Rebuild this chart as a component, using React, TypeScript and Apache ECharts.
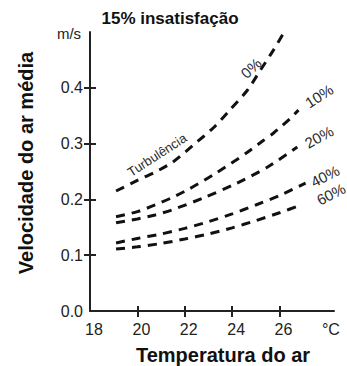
import React, { useEffect, useRef } from "react";
import * as echarts from "echarts";

const curveNames = ["0%", "10%", "20%", "40%", "60%"];
const temp0 = [19.1, 20.0, 20.75, 21.5, 22.35, 23.2, 23.9, 24.65, 25.2, 25.75, 26.25];
const vel0 = [0.215, 0.234, 0.249, 0.267, 0.297, 0.328, 0.36, 0.396, 0.432, 0.468, 0.504];
const temp10 = [19.1, 20.0, 20.75, 21.45, 22.2, 23.35, 24.6, 25.3, 25.75, 26.45, 26.8];
const vel10 = [0.169, 0.178, 0.19, 0.203, 0.219, 0.248, 0.283, 0.305, 0.319, 0.345, 0.36];
const temp20 = [19.1, 20.0, 20.75, 21.45, 22.75, 24.2, 25.5, 26.75];
const vel20 = [0.158, 0.165, 0.172, 0.181, 0.202, 0.229, 0.258, 0.294];
const temp40 = [19.1, 20, 21, 22, 23, 24, 25, 26, 27.1];
const vel40 = [0.122, 0.13, 0.138, 0.148, 0.16, 0.174, 0.19, 0.207, 0.229];
const temp60 = [19.1, 20, 21, 22, 23, 24, 25, 26, 26.9];
const vel60 = [0.111, 0.115, 0.121, 0.129, 0.138, 0.149, 0.162, 0.176, 0.19];

const xTickValues = [20, 22, 24, 26];
const xLabelValues = [18, 20, 22, 24, 26, 28];
const yTickValues = [0.1, 0.2, 0.3, 0.4];
const yLabelValues = [0, 0.1, 0.2, 0.3, 0.4];

const FONT = "'Liberation Sans', Arial, sans-serif";

function pairs(t: number[], v: number[]) {
  return t.map((x, i) => [x, v[i]]);
}

export default function App() {
  const ref = useRef<HTMLDivElement>(null);
  useEffect(() => {
    if (!ref.current) return;
    const chart = echarts.init(ref.current, undefined, { renderer: "svg" });
    const curves = [
      pairs(temp0, vel0),
      pairs(temp10, vel10),
      pairs(temp20, vel20),
      pairs(temp40, vel40),
      pairs(temp60, vel60),
    ];
    const axisLine = { show: true, lineStyle: { color: "#222", width: 2 } };
    const tickStyle = { color: "#222", width: 2 };
    const deg = Math.PI / 180;
    const annot = (text: string, x: number, y: number, angle: number, size: number) => ({
      type: "text",
      x,
      y,
      rotation: angle * deg,
      style: {
        text,
        fill: "#2a2a2a",
        font: `${size}px ${FONT}`,
        align: "center",
        verticalAlign: "middle",
      },
    });
    chart.setOption({
      animation: false,
      backgroundColor: "#fff",
      grid: { left: 90, top: 32, right: 13, bottom: 55 },
      xAxis: [
        {
          type: "value",
          min: 18,
          max: 28.3,
          interval: 2,
          axisLine,
          splitLine: { show: false },
          axisTick: { show: true, length: 6, lineStyle: tickStyle, customValues: xTickValues },
          axisLabel: {
            customValues: xLabelValues,
            formatter: (v: number) => (v === 28 ? "°C" : String(v)),
            fontSize: 16,
            fontFamily: FONT,
            color: "#222",
            margin: 10,
            padding: [0, 0, 0, 8],
          },
        },
        {
          type: "value",
          min: 18,
          max: 28.3,
          interval: 2,
          position: "bottom",
          axisLine: { show: false },
          splitLine: { show: false },
          axisLabel: { show: false },
          axisTick: { show: true, inside: true, length: 5, lineStyle: tickStyle, customValues: xTickValues },
        },
      ],
      yAxis: [
        {
          type: "value",
          min: 0,
          max: 0.5,
          interval: 0.1,
          axisLine,
          splitLine: { show: false },
          axisTick: { show: true, length: 6, lineStyle: tickStyle, customValues: yTickValues },
          axisLabel: {
            customValues: yLabelValues,
            formatter: (v: number) => v.toFixed(1),
            fontSize: 16,
            fontFamily: FONT,
            color: "#222",
            margin: 7,
          },
        },
        {
          type: "value",
          min: 0,
          max: 0.5,
          interval: 0.1,
          position: "left",
          axisLine: { show: false },
          splitLine: { show: false },
          axisLabel: { show: false },
          axisTick: { show: true, inside: true, length: 6, lineStyle: tickStyle, customValues: yTickValues },
        },
      ],
      series: curves.map((d, i) => ({
        name: curveNames[i],
        type: "line",
        data: d,
        showSymbol: false,
        smooth: 0.25,
        clip: false,
        lineStyle: { color: "#111", width: 3, type: [9, 7] },
      })),
      graphic: [
        {
          type: "text",
          x: 170,
          y: 18,
          style: {
            text: "15% insatisfação",
            fill: "#111",
            font: `bold 17px ${FONT}`,
            align: "center",
            verticalAlign: "middle",
          },
        },
        {
          type: "text",
          x: 69,
          y: 33,
          style: {
            text: "m/s",
            fill: "#222",
            font: `15px ${FONT}`,
            align: "center",
            verticalAlign: "middle",
          },
        },
        {
          type: "text",
          x: 26,
          y: 163,
          rotation: Math.PI / 2,
          style: {
            text: "Velocidade do ar média",
            fill: "#111",
            font: `bold 20px ${FONT}`,
            align: "center",
            verticalAlign: "middle",
          },
        },
        {
          type: "text",
          x: 223,
          y: 355,
          style: {
            text: "Temperatura do ar",
            fill: "#111",
            font: `bold 20px ${FONT}`,
            align: "center",
            verticalAlign: "middle",
          },
        },
        annot("Turbulência", 157, 155, 33, 13),
        annot(curveNames[0], 251, 68, 43, 15),
        annot(curveNames[1], 319, 96, 33, 15),
        annot(curveNames[2], 319, 137, 29, 15),
        annot(curveNames[3], 325, 176, 27, 15),
        annot(curveNames[4], 331, 194, 27, 15),
      ],
    });
    return () => chart.dispose();
  }, []);
  return (
    <div
      ref={ref}
      style={{ position: "fixed", left: 0, top: 0, width: 347, height: 366 }}
    />
  );
}
